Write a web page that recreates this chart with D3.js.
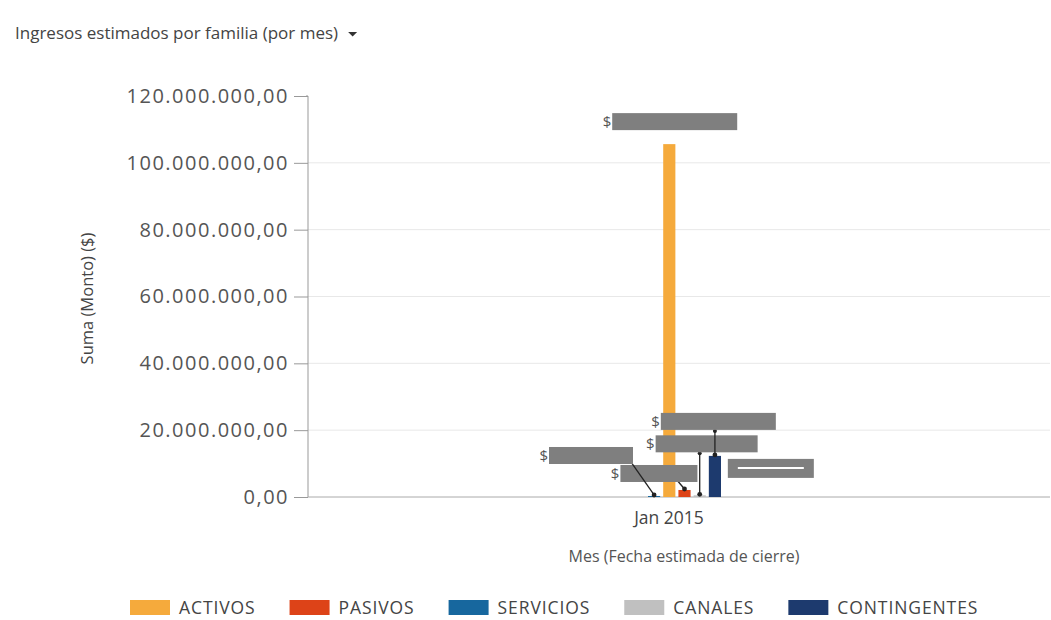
<!DOCTYPE html>
<html>
<head>
<meta charset="utf-8">
<script src="https://cdn.jsdelivr.net/npm/d3@7"></script>
<style>
  body { margin: 0; background: #fff; }
  svg { font-family: "Open Sans", sans-serif; }
</style>
</head>
<body>
<div id="chart"></div>
<script>
(function() {
    'use strict';

    // data
    const months = ["Jan 2015"];
    const families = ["ACTIVOS", "PASIVOS", "SERVICIOS", "CANALES", "CONTINGENTES"];
    const drawOrder = ["SERVICIOS", "ACTIVOS", "PASIVOS", "CANALES", "CONTINGENTES"];
    const amounts = [105600000, 2100000, 300000, 500000, 12300000];
    const colors = ["#f5aa3c", "#dd4318", "#17679e", "#c0c0c0", "#1d3a6e"];
    const yTicks = [0, 20000000, 40000000, 60000000, 80000000, 100000000, 120000000];

    const width = 1051, height = 620;
    const left = 308, right = 1050, top = 96, bottom = 497;

    const svg = d3.select("#chart").append("svg")
        .attr("width", width)
        .attr("height", height);

    // title
    const title = svg.append("text")
        .attr("x", 15).attr("y", 39)
        .attr("font-size", 17).attr("fill", "#444")
        .text("Ingresos estimados por familia (por mes)");
    const tw = title.node().getComputedTextLength();
    svg.append("path")
        .attr("d", `M${15 + tw + 10},${32} l9,0 l-4.5,4.5 z`)
        .attr("fill", "#333");

    const y = d3.scaleLinear().domain([0, 120000000]).range([bottom, top]);
    const x = d3.scaleBand().domain(months).range([left, 1030]);
    const xSub = d3.scaleBand().domain(drawOrder).range([-21, 52]).paddingInner(0.2);

    const fmt = v => d3.format(",.2f")(v).replace(/,/g, "#").replace(".", ",").replace(/#/g, ".");

    // gridlines
    svg.append("g").selectAll("line")
        .data(yTicks.filter(t => t > 0 && t < 120000000))
        .enter().append("line")
        .attr("x1", left).attr("x2", right)
        .attr("y1", d => y(d)).attr("y2", d => y(d))
        .attr("stroke", "#e8e8e8");

    // y axis
    const yAxis = svg.append("g")
        .attr("transform", `translate(${left},0)`)
        .call(d3.axisLeft(y).tickValues(yTicks).tickFormat(fmt).tickSize(14).tickPadding(5));
    yAxis.select(".domain").attr("stroke", "#999").attr("d", `M-2,${top}H0V${bottom}`);
    yAxis.selectAll(".tick line").attr("stroke", "#999");
    yAxis.selectAll(".tick text").attr("font-size", 20).attr("fill", "#555")
        .attr("letter-spacing", 1.5)
        .attr("font-family", "'Open Sans', sans-serif");

    svg.append("line")
        .attr("x1", left).attr("x2", right)
        .attr("y1", y(0)).attr("y2", y(0))
        .attr("stroke", "#aaa");

    svg.append("text")
        .attr("transform", `translate(93,${(top + bottom) / 2 + 2}) rotate(-90)`)
        .attr("text-anchor", "middle")
        .attr("font-size", 16.5).attr("fill", "#444")
        .text("Suma (Monto) ($)");

    // x axis label
    svg.append("g").selectAll("text")
        .data(months).enter().append("text")
        .attr("x", d => x(d) + x.bandwidth() / 2)
        .attr("y", 524)
        .attr("text-anchor", "middle")
        .attr("font-size", 17.5).attr("fill", "#444")
        .text(d => d);

    svg.append("text")
        .attr("x", 684).attr("y", 562)
        .attr("text-anchor", "middle")
        .attr("font-size", 16).attr("fill", "#555")
        .text("Mes (Fecha estimada de cierre)");

    // bars
    const rows = families.map((f, i) => ({ name: f, value: amounts[i], color: colors[i], month: months[0] }));
    const bx = d => x(d.month) + x.bandwidth() / 2 + xSub(d.name);

    svg.append("g").selectAll("rect")
        .data(rows).enter().append("rect")
        .attr("x", bx)
        .attr("width", xSub.bandwidth())
        .attr("y", d => y(d.value))
        .attr("height", d => y(0) - y(d.value))
        .attr("fill", d => d.color);

    // redacted data labels: offsets from the bar they belong to
    const labelSpots = {
        ACTIVOS:      { dx: -51, dy: -31, w: 125, lead: "none" },
        SERVICIOS:    { dx: -99, dy: -49, w: 84, lead: "diag", fx: 0.95 },
        PASIVOS:      { dx: -58, dy: -25, w: 77, lead: "diag", fx: 0.7 },
        CANALES:      { dx: -38, dy: -60, w: 102, lead: "vert" },
        CONTINGENTES: { dx: -48, dy: -43, w: 115, lead: "vert" }
    };

    const lab = svg.append("g");
    rows.forEach(d => {
        const s = labelSpots[d.name];
        const cx = bx(d) + xSub.bandwidth() / 2;
        const top0 = y(d.value);
        const lx = bx(d) + s.dx, ly = top0 + s.dy;
        if (s.lead === "diag") {
            lab.append("line")
                .attr("x1", lx + s.w * s.fx).attr("y1", ly + 12)
                .attr("x2", cx).attr("y2", top0 - 1)
                .attr("stroke", "#222").attr("stroke-width", 1.3);
            lab.append("circle").attr("cx", cx).attr("cy", top0 - 1).attr("r", 2.4).attr("fill", "#222");
        } else if (s.lead === "vert") {
            lab.append("line")
                .attr("x1", cx).attr("y1", ly + 17)
                .attr("x2", cx).attr("y2", top0 - 1)
                .attr("stroke", "#222").attr("stroke-width", 1.3);
            lab.append("circle").attr("cx", cx).attr("cy", top0 - 1).attr("r", 2.4).attr("fill", "#222");
            lab.append("circle").attr("cx", cx).attr("cy", ly + 18).attr("r", 2).attr("fill", "#222");
        }
        lab.append("rect")
            .attr("x", lx).attr("y", ly)
            .attr("width", s.w).attr("height", 17)
            .attr("fill", "#7f7f7f");
        lab.append("text")
            .attr("x", lx - 1).attr("y", ly + 14)
            .attr("text-anchor", "end")
            .attr("font-size", 15).attr("fill", "#555")
            .text("$");
    });

    // extra hidden label with white bar
    const cont = rows[4];
    lab.append("rect")
        .attr("x", bx(cont) + 19).attr("y", y(cont.value) + 3)
        .attr("width", 86).attr("height", 19).attr("fill", "#7f7f7f");
    lab.append("line")
        .attr("x1", bx(cont) + 29).attr("x2", bx(cont) + 95)
        .attr("y1", y(cont.value) + 12).attr("y2", y(cont.value) + 12)
        .attr("stroke", "#fff").attr("stroke-width", 2);

    // legend
    const legend = svg.append("g");
    let lxPos = 130;
    families.forEach((f, i) => {
        legend.append("rect")
            .attr("x", lxPos).attr("y", 600)
            .attr("width", 40).attr("height", 15)
            .attr("fill", colors[i]);
        const t = legend.append("text")
            .attr("x", lxPos + 49).attr("y", 613.5)
            .attr("font-size", 17.5).attr("fill", "#444")
            .attr("letter-spacing", 0.9)
            .text(f);
        lxPos += 49 + t.node().getComputedTextLength() + 34;
    });
})();
</script>
</body>
</html>
